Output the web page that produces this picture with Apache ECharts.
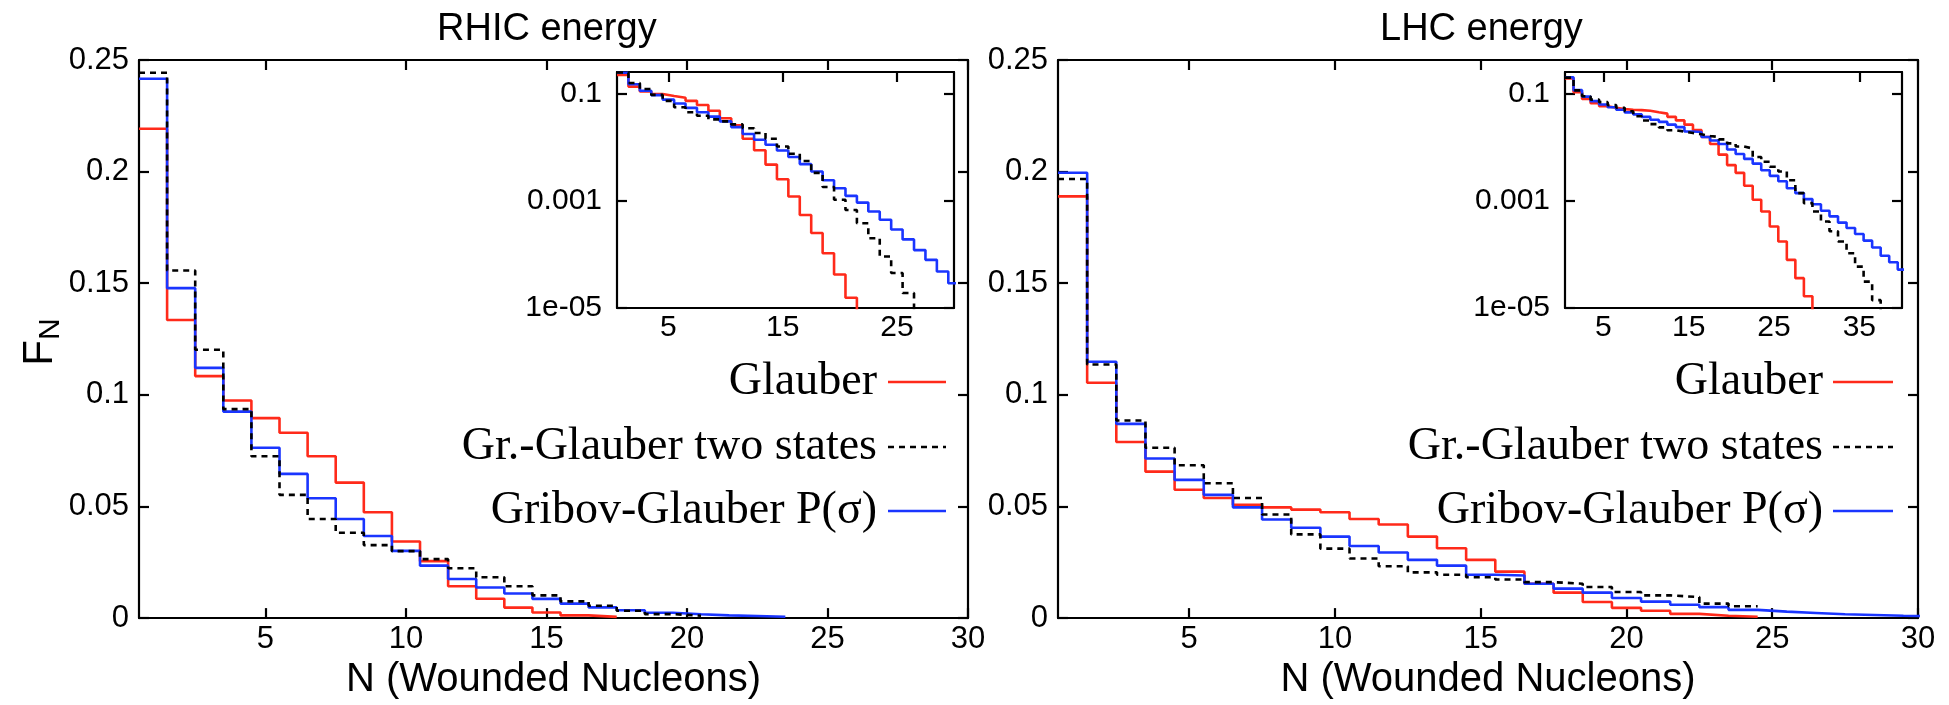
<!DOCTYPE html>
<html><head><meta charset="utf-8">
<script src="https://cdn.jsdelivr.net/npm/echarts@6/dist/echarts.min.js"></script>
<style>html,body{margin:0;padding:0;background:#fff}#c{width:1949px;height:705px}</style>
</head><body><div id="c"></div>
<script>
// ---- data: F_N per bin, N = 1, 2, 3, ... (last value of each tail is below the inset's range) ----
const rhicGlauber   = [0.2192,0.1335,0.1084,0.0975,0.0896,0.0830,0.0725,0.0607,0.0474,0.0343,0.0255,0.0143,0.0087,0.0047,0.0025,0.0012,0.00054,0.00025,0.000105,0.000042,0.0000155,0.000005];
const rhicTwoStates = [0.2443,0.1557,0.1202,0.0936,0.0725,0.0552,0.0444,0.0382,0.0327,0.0300,0.0264,0.0223,0.0183,0.0143,0.0102,0.0075,0.0055,0.0033,0.0018,0.00104,0.00067,0.00038,0.0002,0.000091,0.000045,0.000019,0.000006];
const rhicPSigma    = [0.2416,0.1478,0.1121,0.0925,0.0763,0.0646,0.0537,0.0444,0.0368,0.0301,0.0235,0.0175,0.0137,0.0110,0.0086,0.0065,0.0048,0.0035,0.0024,0.0017,0.00123,0.00092,0.00063,0.00044,0.00029,0.00019,0.00012,0.000079,0.000048,0.000029];
const lhcGlauber    = [0.1889,0.1054,0.0789,0.0656,0.0575,0.0538,0.0508,0.0496,0.0486,0.0474,0.0444,0.0419,0.0365,0.0313,0.0261,0.0208,0.0154,0.0114,0.0072,0.0046,0.0033,0.0019,0.00104,0.00063,0.00033,0.000174,0.000079,0.000036,0.0000166,0.000006];
const lhcTwoStates  = [0.1967,0.1136,0.0885,0.0763,0.0685,0.0604,0.0538,0.0464,0.0375,0.0311,0.0267,0.0232,0.0205,0.0194,0.0183,0.0173,0.0161,0.0154,0.0139,0.0117,0.0102,0.0094,0.0065,0.0053,0.0043,0.0035,0.0024,0.00138,0.0009,0.00063,0.00041,0.00027,0.000174,0.000105,0.000059,0.000031,0.000014,0.000005];
const lhcPSigma     = [0.1995,0.1148,0.0870,0.0715,0.0619,0.0552,0.0496,0.0442,0.0405,0.0365,0.0323,0.0294,0.0261,0.0235,0.0194,0.0191,0.0154,0.0132,0.0114,0.0090,0.0074,0.0060,0.0049,0.0037,0.0029,0.0023,0.0017,0.00138,0.00107,0.00086,0.00065,0.00051,0.00039,0.00031,0.00024,0.00018,0.000134,0.000094,0.000071,0.000052];
// number of bins drawn in the linear main panels
const rhicMainBins = [17, 20, 23];
const lhcMainBins  = [24, 24, 30];
// ticks / labels
const mainXTicks = [5, 10, 15, 20, 25, 30];
const rhicInsetXTicks = [5, 15, 25];
const lhcInsetXTicks = [5, 15, 25, 35];
const insetYTicks = [0.1, 0.001, 0.00001];
const insetYTickLabels = ['0.1', '0.001', '1e-05'];
const seriesNames = ['Glauber', 'Gr.-Glauber two states', 'Gribov-Glauber P(\u03c3)'];
const panelTitles = ['RHIC energy', 'LHC energy'];

const colors = ['#ff2a1a', '#000000', '#1a35ff'];
const lineTypes = ['solid', [6, 5], 'solid'];
const SANS = 'Liberation Sans';
const SERIF = 'Liberation Serif';

function steps(vals) {
  const pts = vals.map((v, i) => [i + 0.5, v]);
  pts.push([vals.length + 0.5, vals[vals.length - 1]]);
  return pts;
}

const grids = [
  {left: 139, top: 60, width: 829, height: 563},
  {left: 1058, top: 60, width: 860, height: 563},
  {left: 617, top: 72, width: 337, height: 236},
  {left: 1565, top: 72, width: 337, height: 236}
];

const axisLine = {show: true, onZero: false, lineStyle: {color: '#000', width: 2.2}};
const tick = (len, vals) => ({show: true, inside: true, length: len, customValues: vals, lineStyle: {color: '#000', width: 2.2}});

const xAxes = [], yAxes = [];
function addMain(gi) {
  xAxes.push({type: 'value', gridIndex: gi, position: 'bottom', min: 0.5, max: 30,
    axisLine, axisTick: tick(10, mainXTicks), splitLine: {show: false},
    axisLabel: {customValues: mainXTicks, fontFamily: SANS, fontSize: 31, color: '#000', margin: 6},
    name: 'N (Wounded Nucleons)', nameLocation: 'middle', nameGap: 38,
    nameTextStyle: {fontFamily: SANS, fontSize: 40, color: '#000'}});
  xAxes.push({type: 'value', gridIndex: gi, position: 'top', min: 0.5, max: 30,
    axisLine, axisTick: tick(10, mainXTicks), splitLine: {show: false}, axisLabel: {show: false}});
  yAxes.push({type: 'value', gridIndex: gi, position: 'left', min: 0, max: 0.25, interval: 0.05,
    axisLine, axisTick: {show: true, inside: true, length: 10, lineStyle: {color: '#000', width: 2.2}},
    splitLine: {show: false},
    axisLabel: {fontFamily: SANS, fontSize: 31, color: '#000', margin: 10}});
  yAxes.push({type: 'value', gridIndex: gi, position: 'right', min: 0, max: 0.25, interval: 0.05,
    axisLine, axisTick: {show: true, inside: true, length: 10, lineStyle: {color: '#000', width: 2.2}},
    splitLine: {show: false}, axisLabel: {show: false}});
}
function addInset(gi, xmax, xt) {
  xAxes.push({type: 'value', gridIndex: gi, position: 'bottom', min: 0.5, max: xmax,
    axisLine, axisTick: {show: false}, splitLine: {show: false},
    axisLabel: {customValues: xt, fontFamily: SANS, fontSize: 30, color: '#000', margin: 5}});
  xAxes.push({type: 'value', gridIndex: gi, position: 'top', min: 0.5, max: xmax,
    axisLine, axisTick: tick(10, xt), splitLine: {show: false}, axisLabel: {show: false}});
  const lab = v => insetYTickLabels[insetYTicks.findIndex(t => Math.abs(Math.log10(t) - Math.log10(v)) < 1e-6)] || '';
  yAxes.push({type: 'log', logBase: 10, gridIndex: gi, position: 'left', min: 0.00001, max: 0.25,
    axisLine, axisTick: tick(10, insetYTicks), splitLine: {show: false}, minorTick: {show: false},
    axisLabel: {customValues: insetYTicks, formatter: lab, fontFamily: SANS, fontSize: 30, color: '#000', margin: 15}});
  yAxes.push({type: 'log', logBase: 10, gridIndex: gi, position: 'right', min: 0.00001, max: 0.25,
    axisLine, axisTick: tick(10, insetYTicks), splitLine: {show: false}, axisLabel: {show: false}});
}
addMain(0); addMain(1);
addInset(2, 30, rhicInsetXTicks); addInset(3, 40, lhcInsetXTicks);

const series = [];
function addSeries(datasets, xIdx, yIdx, counts) {
  datasets.forEach((d, k) => {
    const vals = counts ? d.slice(0, counts[k]) : d;
    series.push({type: 'line', name: seriesNames[k], xAxisIndex: xIdx, yAxisIndex: yIdx,
      step: 'end', symbol: 'none', clip: true, silent: true, z: k === 1 ? 3 : 2,
      lineStyle: {color: colors[k], width: 2.6, type: lineTypes[k]},
      data: steps(vals)});
  });
}
const rhic = [rhicGlauber, rhicTwoStates, rhicPSigma];
const lhc = [lhcGlauber, lhcTwoStates, lhcPSigma];
addSeries(rhic, 0, 0, rhicMainBins);
addSeries(lhc, 2, 2, lhcMainBins);
addSeries(rhic, 4, 4, null);
addSeries(lhc, 6, 6, null);

// legends (text + sample line) and titles
const graphic = [];
const legendRows = [382, 447, 511];
[[877, 888, 946], [1823, 1833, 1893]].forEach(([tx, l0, l1]) => {
  seriesNames.forEach((nm, k) => {
    graphic.push({type: 'text', x: tx, y: legendRows[k], style: {text: nm, fontFamily: SERIF, fontSize: 46,
      fill: '#000', align: 'right', verticalAlign: 'middle'}});
    graphic.push({type: 'line', shape: {x1: l0, y1: legendRows[k], x2: l1, y2: legendRows[k]},
      style: {stroke: colors[k], lineWidth: 2.6, lineDash: k === 1 ? [6, 5] : null}});
  });
});
graphic.push({type: 'text', x: 437, y: 30, style: {text: panelTitles[0], fontFamily: SANS, fontSize: 38, fill: '#000', align: 'left', verticalAlign: 'middle'}});
graphic.push({type: 'text', x: 1380, y: 30, style: {text: panelTitles[1], fontFamily: SANS, fontSize: 38, fill: '#000', align: 'left', verticalAlign: 'middle'}});
graphic.push({type: 'text', x: 40, y: 342, rotation: Math.PI / 2, style: {
  text: '{a|F}{b|N}', align: 'center', verticalAlign: 'middle',
  rich: {a: {fontFamily: SANS, fontSize: 42, fill: '#000'}, b: {fontFamily: SANS, fontSize: 30, fill: '#000', padding: [22, 0, 0, 0]}}}});

const chart = echarts.init(document.getElementById('c'), null, {renderer: 'canvas'});
chart.setOption({animation: false, backgroundColor: '#fff', grid: grids, xAxis: xAxes, yAxis: yAxes, series, graphic});
</script></body></html>
